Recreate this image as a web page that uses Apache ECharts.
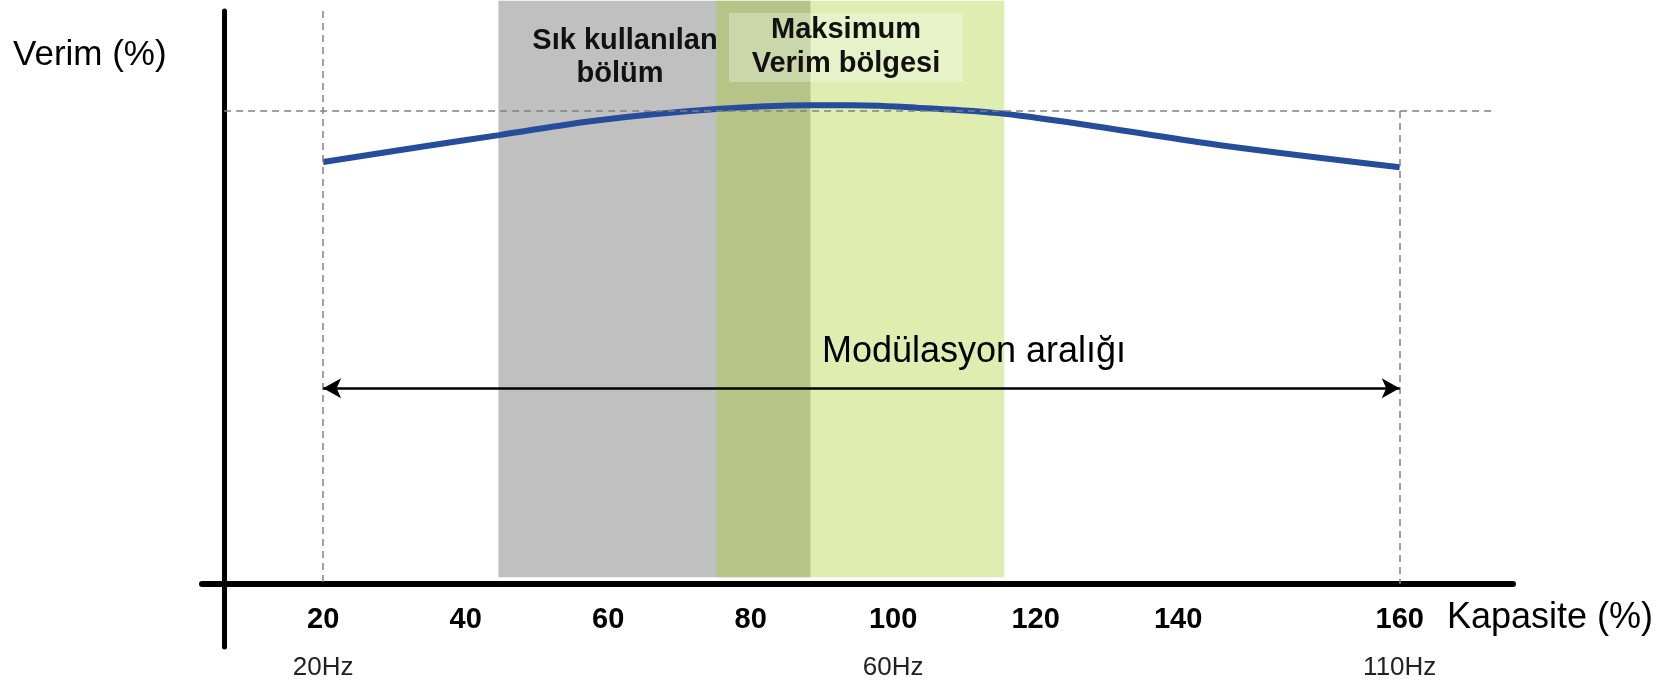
<!DOCTYPE html>
<html>
<head>
<meta charset="utf-8">
<script src="https://cdn.jsdelivr.net/npm/echarts@6/dist/echarts.min.js"></script>
<style>
html,body{margin:0;padding:0;background:#fff;}
#chart{width:1671px;height:681px;}
</style>
</head>
<body>
<div id="chart"></div>
<script>
// ---- data ----
const xTickLabels = ['20', '40', '60', '80', '100', '120', '140', '160'];
const xTickPos = [20, 40, 60, 80, 100, 120, 140, 171.1]; // axis position where each label is drawn (diagram is schematic at the right end)
const freqLabels = ['20Hz', '', '', '', '60Hz', '', '', '110Hz'];

const curveX = [20, 34.5, 44.7, 58.4, 75.2, 88.3, 94.3, 103.3, 115.6, 131.7, 146.7, 171.1];
const curveY = [89.2, 92.6, 94.9, 98.0, 100.4, 101.2, 101.2, 100.7, 99.4, 96.0, 92.6, 88.1];

const bandNames = ['Sık kullanılan bölüm', 'Maksimum Verim bölgesi'];
const bandStart = [44.6, 75.2];
const bandEnd = [88.4, 115.6];

const maxEffLevel = 100;      // horizontal dashed reference
const rangeStart = 20;        // modulation range start
const rangeEnd = 171.1;       // modulation range end (drawn at "160")
const arrowLevel = 41.4;

const X_MIN = 3, X_MAX = 187;
const Y_MIN = -13.32, Y_MAX = 121.14;

const FONT = 'Liberation Sans, Arial, Helvetica, sans-serif';

const chart = echarts.init(document.getElementById('chart'), null, {renderer: 'canvas'});

const bandColors = ['#c0c0c0', 'rgba(164,204,29,0.35)'];

const option = {
  animation: false,
  backgroundColor: '#ffffff',
  grid: {left: 202, right: 158, top: 11, bottom: 34, containLabel: false, outerBoundsMode: 'none'},
  xAxis: {
    type: 'value',
    min: X_MIN,
    max: X_MAX,
    splitLine: {show: false},
    axisTick: {show: false},
    axisLine: {show: true, onZero: true, lineStyle: {color: '#000', width: 6}},
    axisLabel: {
      show: true,
      customValues: xTickPos,
      margin: -45,
      verticalAlign: 'top',
      formatter: function (v) {
        let idx = -1;
        for (let i = 0; i < xTickPos.length; i++) {
          if (Math.abs(xTickPos[i] - v) < 0.01) idx = i;
        }
        if (idx < 0) return '';
        return '{a|' + xTickLabels[idx] + '}\n{b|' + (freqLabels[idx] || ' ') + '}';
      },
      rich: {
        a: {fontFamily: FONT, fontSize: 29, fontWeight: 'bold', color: '#000', lineHeight: 36, align: 'center'},
        b: {fontFamily: FONT, fontSize: 26, color: '#222', lineHeight: 60, align: 'center'}
      }
    }
  },
  yAxis: {
    type: 'value',
    min: Y_MIN,
    max: Y_MAX,
    offset: -22,
    splitLine: {show: false},
    axisTick: {show: false},
    axisLabel: {show: false},
    axisLine: {show: true, onZero: false, lineStyle: {color: '#000', width: 5}}
  },
  series: [
    {
      name: 'bands',
      type: 'custom',
      z: 1,
      clip: false,
      silent: true,
      data: bandStart.map((s, i) => [s, bandEnd[i], 0]),
      encode: {x: [0, 1], y: 2},
      renderItem: function (params, api) {
        const p0 = api.coord([api.value(0), 123.3]);
        const p1 = api.coord([api.value(1), 1.4]);
        return {
          type: 'rect',
          shape: {x: p0[0], y: p0[1], width: p1[0] - p0[0], height: p1[1] - p0[1]},
          style: {fill: bandColors[params.dataIndex]}
        };
      }
    },
    {
      name: 'guides',
      type: 'line',
      z: 2,
      data: [],
      silent: true,
      markLine: {
        silent: true,
        symbol: ['none', 'none'],
        label: {show: false},
        lineStyle: {color: '#808080', width: 1.5, type: [7, 5]},
        data: [
          [{coord: [rangeStart, Y_MAX]}, {coord: [rangeStart, 0]}],
          [{coord: [rangeEnd, maxEffLevel]}, {coord: [rangeEnd, 0]}],
          [{coord: [6.1, maxEffLevel]}, {coord: [184.4, maxEffLevel]}]
        ]
      }
    },
    {
      name: 'Verim',
      type: 'line',
      z: 3,
      smooth: 0.35,
      showSymbol: false,
      lineStyle: {color: '#264d9b', width: 6, cap: 'butt'},
      data: curveX.map((x, i) => [x, curveY[i]])
    },
    {
      name: 'range',
      type: 'line',
      z: 4,
      data: [],
      silent: true,
      markLine: {
        silent: true,
        symbol: ['arrow', 'arrow'],
        symbolSize: [15, 18],
        label: {show: false},
        lineStyle: {color: '#000', width: 2.5, type: 'solid'},
        itemStyle: {color: '#000'},
        data: [
          [{coord: [rangeStart, arrowLevel]}, {coord: [rangeEnd, arrowLevel]}]
        ]
      }
    }
  ],
  graphic: [
    {type: 'rect', z: 10, shape: {x: 729, y: 13, width: 234, height: 69}, style: {fill: 'rgba(255,255,255,0.3)'}},
    {type: 'text', z: 11, x: 625, y: 41, style: {text: 'Sık kullanılan', font: 'bold 29px ' + FONT, fill: '#111', align: 'center', verticalAlign: 'middle'}},
    {type: 'text', z: 11, x: 620, y: 74, style: {text: 'bölüm', font: 'bold 29px ' + FONT, fill: '#111', align: 'center', verticalAlign: 'middle'}},
    {type: 'text', z: 11, x: 846, y: 30, style: {text: 'Maksimum', font: 'bold 29px ' + FONT, fill: '#111', align: 'center', verticalAlign: 'middle'}},
    {type: 'text', z: 11, x: 846, y: 64, style: {text: 'Verim bölgesi', font: 'bold 29px ' + FONT, fill: '#111', align: 'center', verticalAlign: 'middle'}},
    {type: 'text', z: 11, x: 13, y: 55, style: {text: 'Verim (%)', font: '35px ' + FONT, fill: '#000', align: 'left', verticalAlign: 'middle'}},
    {type: 'text', z: 11, x: 1447, y: 618, style: {text: 'Kapasite (%)', font: '36px ' + FONT, fill: '#000', align: 'left', verticalAlign: 'middle'}},
    {type: 'text', z: 11, x: 974, y: 352, style: {text: 'Modülasyon aralığı', font: '36px ' + FONT, fill: '#000', align: 'center', verticalAlign: 'middle'}}
  ]
};

chart.setOption(option);
</script>
</body>
</html>
